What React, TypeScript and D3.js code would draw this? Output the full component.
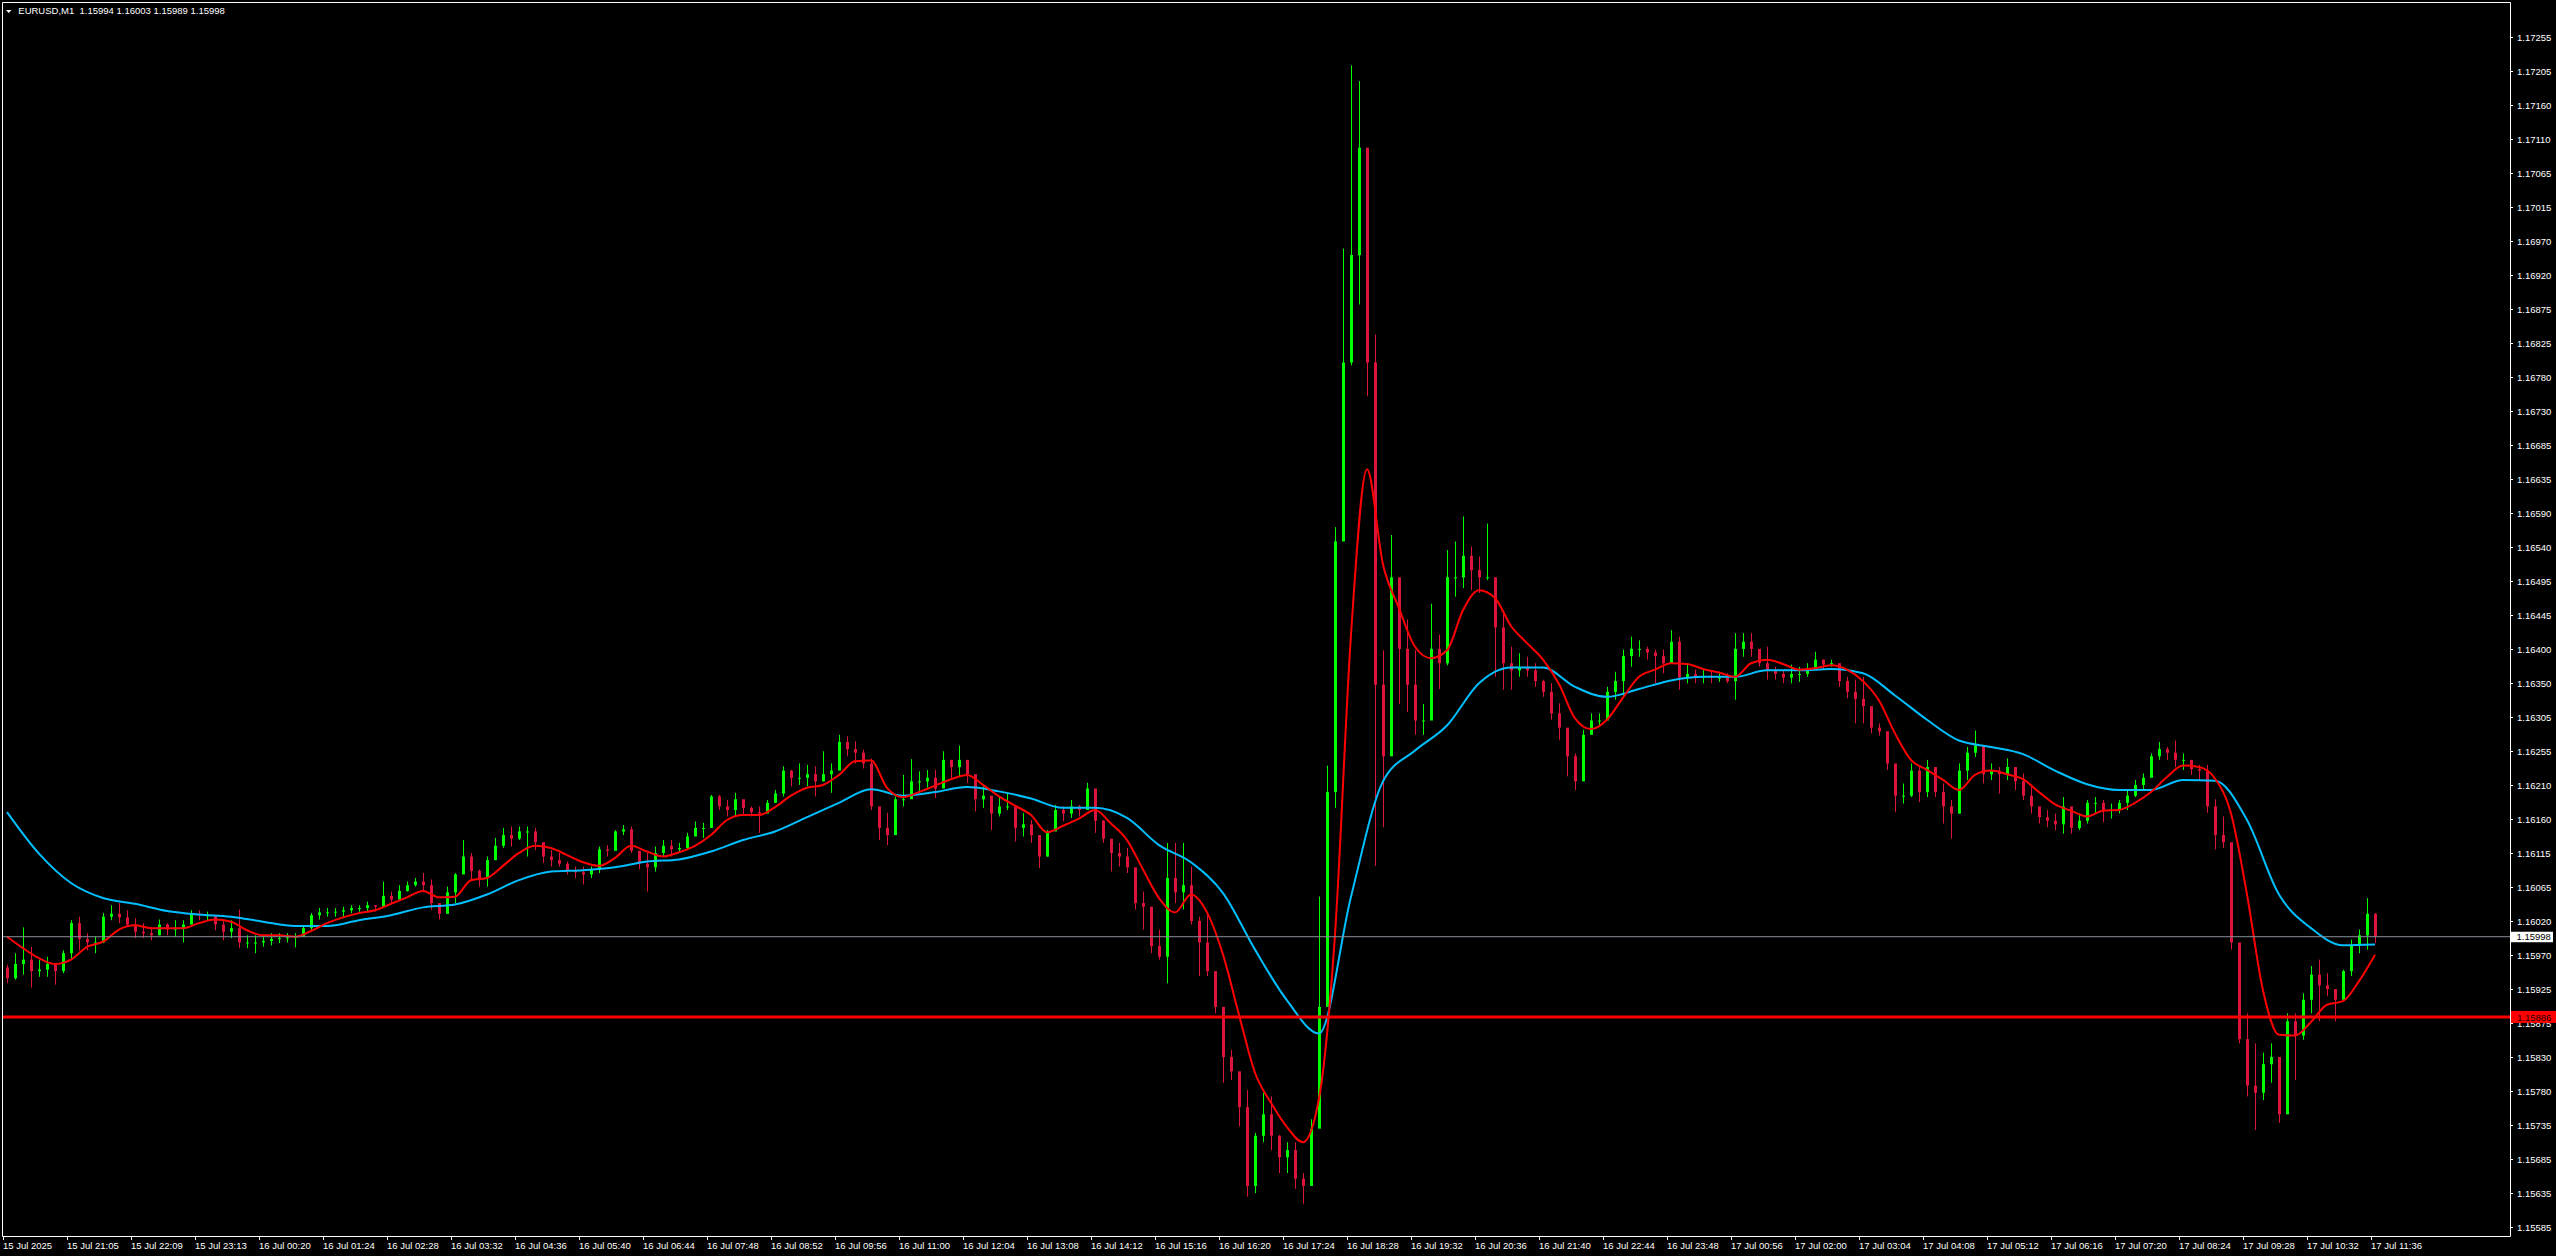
import React from 'react';
import * as d3 from 'd3';

const SYMBOL = 'EURUSD,M1';
const HEADER_OHLC = ['1.15994', '1.16003', '1.15989', '1.15998'];
const BID = 1.15998;
const LEVEL = 1.15886;
const OPEN0 = 1.15955;

// aggregated 8-minute buckets
const HIGH = [
1.15959,1.15975,1.16011,1.15984,1.15966,1.15970,1.15961,1.15979,1.16021,1.16026,
1.16003,1.15998,1.16031,1.16042,1.16045,1.16035,1.16024,1.16017,1.16012,1.16022,
1.16017,1.16021,1.16021,1.16035,1.16035,1.16033,1.16028,1.16021,1.16021,1.16036,
1.16000,1.16000,1.16000,1.16003,1.16003,1.16003,1.16003,1.16014,1.16031,1.16038,
1.16038,1.16038,1.16040,1.16042,1.16042,1.16047,1.16042,1.16075,1.16061,1.16070,
1.16075,1.16080,1.16087,1.16078,1.16040,1.16068,1.16087,1.16133,1.16115,1.16092,
1.16110,1.16136,1.16150,1.16152,1.16152,1.16152,1.16150,1.16129,1.16119,1.16115,
1.16103,1.16096,1.16096,1.16096,1.16124,1.16126,1.16147,1.16154,1.16152,1.16117,
1.16115,1.16124,1.16133,1.16133,1.16129,1.16143,1.16159,1.16157,1.16196,1.16196,
1.16189,1.16199,1.16185,1.16180,1.16180,1.16189,1.16203,1.16236,1.16231,1.16240,
1.16238,1.16236,1.16257,1.16240,1.16280,1.16278,1.16271,1.16259,1.16247,1.16175,
1.16171,1.16194,1.16224,1.16246,1.16229,1.16231,1.16231,1.16257,1.16245,1.16265,
1.16240,1.16222,1.16208,1.16194,1.16194,1.16199,1.16180,1.16171,1.16161,1.16138,
1.16147,1.16182,1.16180,1.16189,1.16182,1.16213,1.16199,1.16161,1.16129,1.16129,
1.16122,1.16078,1.16061,1.16029,1.16008,1.16129,1.16129,1.16129,1.16096,1.16026,
1.16031,1.15947,1.15891,1.15840,1.15789,1.15784,1.15724,1.15780,1.15775,1.15721,
1.15711,1.15711,1.15668,1.15743,1.16054,1.16237,1.16570,1.16959,1.17215,1.17193,
1.17075,1.16839,1.16398,1.16559,1.16484,1.16441,1.16398,1.16323,1.16463,1.16420,
1.16538,1.16550,1.16585,1.16543,1.16529,1.16575,1.16492,1.16450,1.16403,1.16394,
1.16389,1.16380,1.16357,1.16352,1.16324,1.16282,1.16254,1.16287,1.16310,1.16310,
1.16347,1.16368,1.16399,1.16417,1.16412,1.16403,1.16399,1.16399,1.16426,1.16417,
1.16380,1.16371,1.16371,1.16368,1.16366,1.16366,1.16422,1.16422,1.16422,1.16389,
1.16403,1.16375,1.16371,1.16378,1.16375,1.16380,1.16396,1.16385,1.16385,1.16378,
1.16361,1.16357,1.16361,1.16319,1.16296,1.16282,1.16231,1.16212,1.16240,1.16235,
1.16245,1.16226,1.16212,1.16189,1.16240,1.16263,1.16286,1.16259,1.16240,1.16235,
1.16247,1.16231,1.16226,1.16207,1.16179,1.16175,1.16170,1.16193,1.16163,1.16170,
1.16189,1.16193,1.16189,1.16184,1.16189,1.16203,1.16217,1.16226,1.16254,1.16270,
1.16263,1.16272,1.16254,1.16240,1.16238,1.16238,1.16190,1.16166,1.16129,1.15980,
1.15891,1.15849,1.15836,1.15849,1.15817,1.15891,1.15891,1.15919,1.15957,1.15966,
1.15947,1.15919,1.15952,1.15994,1.16008,1.16052,1.16031
];

const LOW = [
1.15933,1.15938,1.15945,1.15927,1.15942,1.15942,1.15931,1.15947,1.15966,1.15979,
1.15979,1.15975,1.15989,1.16021,1.16017,1.16012,1.15996,1.15996,1.15993,1.16000,
1.16000,1.15998,1.15990,1.16017,1.16021,1.16021,1.16007,1.15993,1.15996,1.15982,
1.15982,1.15975,1.15984,1.15986,1.15989,1.15990,1.15983,1.15998,1.16005,1.16022,
1.16026,1.16026,1.16024,1.16031,1.16033,1.16033,1.16033,1.16045,1.16045,1.16049,
1.16061,1.16068,1.16061,1.16036,1.16022,1.16043,1.16045,1.16096,1.16078,1.16068,
1.16068,1.16105,1.16122,1.16124,1.16133,1.16110,1.16119,1.16101,1.16096,1.16096,
1.16085,1.16080,1.16071,1.16080,1.16087,1.16110,1.16119,1.16140,1.16115,1.16092,
1.16061,1.16089,1.16110,1.16110,1.16115,1.16119,1.16140,1.16136,1.16161,1.16175,
1.16166,1.16166,1.16168,1.16166,1.16143,1.16173,1.16185,1.16194,1.16208,1.16210,
1.16208,1.16194,1.16215,1.16199,1.16236,1.16250,1.16240,1.16233,1.16175,1.16133,
1.16126,1.16152,1.16180,1.16194,1.16201,1.16206,1.16192,1.16206,1.16217,1.16222,
1.16213,1.16173,1.16178,1.16147,1.16166,1.16175,1.16131,1.16138,1.16129,1.16094,
1.16110,1.16152,1.16159,1.16164,1.16166,1.16180,1.16143,1.16129,1.16089,1.16096,
1.16087,1.16036,1.16008,1.15975,1.15966,1.15933,1.16045,1.16036,1.16015,1.15943,
1.15943,1.15891,1.15794,1.15798,1.15733,1.15635,1.15640,1.15711,1.15700,1.15668,
1.15668,1.15646,1.15625,1.15657,1.15829,1.16070,1.16178,1.16602,1.16796,1.16881,
1.16753,1.16097,1.16151,1.16269,1.16323,1.16312,1.16280,1.16280,1.16344,1.16344,
1.16377,1.16473,1.16485,1.16482,1.16478,1.16496,1.16361,1.16343,1.16343,1.16361,
1.16361,1.16347,1.16333,1.16301,1.16273,1.16222,1.16203,1.16236,1.16282,1.16291,
1.16310,1.16329,1.16333,1.16375,1.16389,1.16385,1.16352,1.16366,1.16385,1.16343,
1.16352,1.16352,1.16352,1.16352,1.16354,1.16352,1.16329,1.16389,1.16389,1.16375,
1.16357,1.16357,1.16352,1.16352,1.16354,1.16361,1.16371,1.16371,1.16375,1.16347,
1.16331,1.16296,1.16296,1.16282,1.16279,1.16231,1.16172,1.16184,1.16193,1.16186,
1.16193,1.16193,1.16156,1.16135,1.16170,1.16217,1.16249,1.16212,1.16217,1.16198,
1.16217,1.16203,1.16189,1.16170,1.16156,1.16151,1.16147,1.16142,1.16142,1.16147,
1.16156,1.16170,1.16158,1.16163,1.16170,1.16175,1.16193,1.16203,1.16221,1.16245,
1.16245,1.16235,1.16231,1.16224,1.16217,1.16171,1.16120,1.16122,1.15980,1.15849,
1.15775,1.15728,1.15770,1.15794,1.15738,1.15789,1.15798,1.15854,1.15891,1.15880,
1.15915,1.15880,1.15910,1.15943,1.15975,1.15980,1.15989
];

const CLOSE = [
1.15940,1.15960,1.15966,1.15950,1.15952,1.15960,1.15950,1.15975,1.16017,1.15995,
1.15990,1.15990,1.16026,1.16030,1.16025,1.16015,1.16005,1.16003,1.16000,1.16015,
1.16008,1.16010,1.16015,1.16030,1.16028,1.16028,1.16015,1.16005,1.16010,1.15990,
1.15990,1.15990,1.15992,1.15995,1.15996,1.15997,1.15998,1.16010,1.16028,1.16032,
1.16032,1.16033,1.16035,1.16038,1.16038,1.16042,1.16040,1.16055,1.16050,1.16062,
1.16070,1.16075,1.16070,1.16045,1.16030,1.16060,1.16085,1.16110,1.16090,1.16080,
1.16105,1.16125,1.16140,1.16135,1.16145,1.16145,1.16130,1.16110,1.16105,1.16100,
1.16090,1.16088,1.16085,1.16092,1.16120,1.16118,1.16145,1.16148,1.16118,1.16100,
1.16095,1.16115,1.16125,1.16120,1.16122,1.16138,1.16150,1.16150,1.16194,1.16180,
1.16175,1.16190,1.16178,1.16172,1.16170,1.16185,1.16198,1.16230,1.16220,1.16220,
1.16225,1.16215,1.16225,1.16230,1.16270,1.16260,1.16255,1.16240,1.16180,1.16150,
1.16140,1.16190,1.16190,1.16215,1.16215,1.16220,1.16205,1.16245,1.16235,1.16245,
1.16225,1.16190,1.16195,1.16170,1.16180,1.16180,1.16150,1.16155,1.16140,1.16110,
1.16145,1.16175,1.16170,1.16180,1.16175,1.16205,1.16160,1.16135,1.16115,1.16110,
1.16095,1.16045,1.16040,1.15985,1.15970,1.16080,1.16060,1.16070,1.16020,1.15990,
1.15950,1.15900,1.15830,1.15810,1.15760,1.15650,1.15720,1.15750,1.15720,1.15690,
1.15700,1.15660,1.15650,1.15730,1.15900,1.16200,1.16550,1.16800,1.16950,1.17100,
1.16800,1.16350,1.16250,1.16500,1.16400,1.16350,1.16300,1.16300,1.16400,1.16380,
1.16500,1.16500,1.16530,1.16510,1.16500,1.16500,1.16430,1.16380,1.16370,1.16375,
1.16370,1.16355,1.16340,1.16310,1.16290,1.16250,1.16215,1.16280,1.16300,1.16300,
1.16340,1.16355,1.16390,1.16400,1.16400,1.16395,1.16390,1.16380,1.16410,1.16360,
1.16365,1.16360,1.16362,1.16360,1.16360,1.16355,1.16400,1.16410,1.16400,1.16380,
1.16370,1.16365,1.16360,1.16365,1.16365,1.16370,1.16385,1.16378,1.16380,1.16355,
1.16340,1.16330,1.16320,1.16290,1.16285,1.16240,1.16195,1.16195,1.16230,1.16200,
1.16235,1.16200,1.16180,1.16170,1.16230,1.16255,1.16265,1.16225,1.16230,1.16225,
1.16235,1.16215,1.16195,1.16180,1.16165,1.16160,1.16155,1.16180,1.16150,1.16160,
1.16185,1.16185,1.16175,1.16175,1.16185,1.16195,1.16210,1.16220,1.16250,1.16260,
1.16255,1.16245,1.16245,1.16232,1.16230,1.16180,1.16140,1.16130,1.15990,1.15855,
1.15790,1.15780,1.15820,1.15830,1.15750,1.15880,1.15860,1.15910,1.15945,1.15930,
1.15925,1.15910,1.15950,1.15985,1.16000,1.16030,1.15998
];

// fast MA, one value every 2 buckets
const RED_MA = [
1.15998,1.15982,1.15968,1.15960,1.15966,1.15984,1.15991,1.16008,1.16014,1.16010,
1.16010,1.16010,1.16017,1.16022,1.16019,1.16007,1.16000,1.16000,1.15998,1.16006,
1.16017,1.16025,1.16031,1.16035,1.16044,1.16053,1.16062,1.16053,1.16054,1.16077,
1.16080,1.16097,1.16115,1.16125,1.16122,1.16112,1.16102,1.16097,1.16108,1.16125,
1.16117,1.16110,1.16116,1.16125,1.16140,1.16161,1.16168,1.16168,1.16179,1.16195,
1.16206,1.16210,1.16224,1.16243,1.16244,1.16206,1.16193,1.16200,1.16209,1.16218,
1.16224,1.16210,1.16194,1.16181,1.16168,1.16144,1.16153,1.16163,1.16175,1.16156,
1.16133,1.16092,1.16052,1.16032,1.16057,1.16032,1.15973,1.15889,1.15808,1.15766,
1.15732,1.15711,1.15772,1.16001,1.16420,1.16651,1.16518,1.16457,1.16403,1.16387,
1.16398,1.16454,1.16482,1.16471,1.16432,1.16408,1.16385,1.16351,1.16303,1.16288,
1.16301,1.16332,1.16361,1.16371,1.16380,1.16379,1.16372,1.16367,1.16361,1.16380,
1.16385,1.16379,1.16371,1.16373,1.16377,1.16371,1.16355,1.16328,1.16282,1.16245,
1.16231,1.16217,1.16203,1.16224,1.16230,1.16225,1.16218,1.16200,1.16183,1.16174,
1.16166,1.16174,1.16175,1.16185,1.16200,1.16221,1.16237,1.16235,1.16219,1.16170,
1.16057,1.15923,1.15861,1.15860,1.15879,1.15903,1.15908,1.15936,1.15973
];

// slow MA, one value every 4 buckets
const BLUE_MA = [
1.16172,1.16114,1.16073,1.16052,1.16044,1.16034,1.16029,1.16026,1.16019,1.16013,
1.16013,1.16021,1.16028,1.16039,1.16043,1.16057,1.16077,1.16089,1.16091,1.16095,
1.16103,1.16106,1.16117,1.16133,1.16145,1.16165,1.16185,1.16204,1.16195,1.16200,
1.16207,1.16201,1.16191,1.16178,1.16178,1.16164,1.16126,1.16102,1.16059,1.15980,
1.15909,1.15863,1.16054,1.16215,1.16258,1.16293,1.16352,1.16374,1.16374,1.16347,
1.16333,1.16344,1.16356,1.16361,1.16361,1.16370,1.16370,1.16372,1.16366,1.16335,
1.16301,1.16272,1.16263,1.16253,1.16230,1.16211,1.16203,1.16203,1.16217,1.16216,
1.16161,1.16057,1.16010,1.15986,1.15987
];

const PRICE_LABELS = [
'1.17255','1.17205','1.17160','1.17110','1.17065','1.17015','1.16970','1.16920','1.16875','1.16825',
'1.16780','1.16730','1.16685','1.16635','1.16590','1.16540','1.16495','1.16445','1.16400','1.16350',
'1.16305','1.16255','1.16210','1.16160','1.16115','1.16065','1.16020','1.15970','1.15925','1.15875',
'1.15830','1.15780','1.15735','1.15685','1.15635','1.15585'
];

const TIME_LABELS = [
'15 Jul 2025','15 Jul 21:05','15 Jul 22:09','15 Jul 23:13','16 Jul 00:20','16 Jul 01:24','16 Jul 02:28',
'16 Jul 03:32','16 Jul 04:36','16 Jul 05:40','16 Jul 06:44','16 Jul 07:48','16 Jul 08:52','16 Jul 09:56',
'16 Jul 11:00','16 Jul 12:04','16 Jul 13:08','16 Jul 14:12','16 Jul 15:16','16 Jul 16:20','16 Jul 17:24',
'16 Jul 18:28','16 Jul 19:32','16 Jul 20:36','16 Jul 21:40','16 Jul 22:44','16 Jul 23:48','17 Jul 00:56',
'17 Jul 02:00','17 Jul 03:04','17 Jul 04:08','17 Jul 05:12','17 Jul 06:16','17 Jul 07:20','17 Jul 08:24',
'17 Jul 09:28','17 Jul 10:32','17 Jul 11:36'
];

const W = 2556;
const H = 1256;
const PL = 2, PT = 2, PR = 2510, PB = 1236;
const BUCKET_PX = 8;
const BUCKETS_PER_LABEL = 8;
const FONT = '"Liberation Sans", Arial, sans-serif';
const BULL = '#00ff00';
const BEAR = '#dc143c';

export default function App() {
  const n = HIGH.length;
  const x = d3.scaleLinear().domain([0, n]).range([3, 3 + BUCKET_PX * n]);
  const y = d3.scaleLinear().domain([1.17255, 1.15925]).range([36.7, 989]);
  const tickStep = (1.17255 - 1.15925) / 28;

  const redLine = d3.line<number>()
    .x((_, i) => x(i * 2 + 0.5))
    .y((d) => y(d))
    .curve(d3.curveMonotoneX);
  const blueLine = d3.line<number>()
    .x((_, i) => x(i * 4 + 0.5))
    .y((d) => y(d))
    .curve(d3.curveMonotoneX);

  const candles = HIGH.map((h, i) => {
    const o = i === 0 ? OPEN0 : CLOSE[i - 1];
    const c = CLOSE[i];
    const l = LOW[i];
    const cx = Math.round(x(i + 0.5)) + 0.5;
    const col = c >= o ? BULL : BEAR;
    const top = y(Math.max(o, c));
    const bot = y(Math.min(o, c));
    return (
      <g key={i}>
        <line x1={cx} x2={cx} y1={y(h)} y2={y(l)} stroke={col} strokeWidth={1} />
        <rect x={cx - 1.5} y={top} width={3} height={Math.max(1, bot - top)} fill={col} />
      </g>
    );
  });

  const yBid = y(BID);
  const yLevel = y(LEVEL);

  return (
    <svg width={W} height={H} style={{ position: 'fixed', left: 0, top: 0, display: 'block', background: '#000' }}>
      <rect x={0} y={0} width={W} height={H} fill="#000" />
      <defs>
        <clipPath id="plot">
          <rect x={PL} y={PT} width={PR - PL} height={PB - PT} />
        </clipPath>
      </defs>
      <g clipPath="url(#plot)">
        {candles}
        <path d={blueLine(BLUE_MA) || ''} fill="none" stroke="#00bfff" strokeWidth={2} />
        <path d={redLine(RED_MA) || ''} fill="none" stroke="#ff0000" strokeWidth={2} />
        <line x1={PL} x2={PR} y1={yBid} y2={yBid} stroke="#8a8f99" strokeWidth={1} />
        <line x1={PL} x2={PR} y1={yLevel} y2={yLevel} stroke="#ff0000" strokeWidth={3} />
      </g>
      {/* frame */}
      <path d={`M${PL + 0.5},${PB + 0.5} V${PT + 0.5} H${PR + 0.5} V${PB + 0.5} H${PL + 0.5}`} fill="none" stroke="#fff" strokeWidth={1} />
      {/* header */}
      <polygon points="6,10 11.5,10 8.75,13" fill="#fff" />
      <text x={18.3} y={14.2} fill="#fff" fontFamily={FONT} fontSize={9.5}>
        {`${SYMBOL}\u00a0\u00a0${HEADER_OHLC.join(' ')}`}
      </text>
      {/* price axis */}
      {PRICE_LABELS.map((lab, k) => {
        const ty = Math.round(y(1.17255 - k * tickStep)) + 0.5;
        return (
          <g key={lab}>
            <line x1={PR} x2={PR + 3} y1={ty} y2={ty} stroke="#fff" strokeWidth={1} />
            <text x={2517} y={ty + 3.3} fill="#fff" fontFamily={FONT} fontSize={9.5}>{lab}</text>
          </g>
        );
      })}
      {/* bid label */}
      <rect x={2511} y={yBid - 5} width={42} height={10.5} fill="#fff" />
      <text x={2516.5} y={yBid + 3.6} fill="#000" fontFamily={FONT} fontSize={9.5}>{BID.toFixed(5)}</text>
      {/* level label */}
      <rect x={2511} y={yLevel - 6} width={45} height={12} fill="#ff0000" />
      <text x={2517} y={yLevel + 3.6} fill="#200000" fontFamily={FONT} fontSize={9.5}>{LEVEL.toFixed(5)}</text>
      {/* time axis */}
      {TIME_LABELS.map((lab, j) => {
        const tx = Math.round(x(j * BUCKETS_PER_LABEL)) + 0.5;
        return (
          <g key={lab}>
            <line x1={tx} x2={tx} y1={PB} y2={PB + 4} stroke="#fff" strokeWidth={1} />
            <text x={tx - 0.5} y={1248.5} fill="#fff" fontFamily={FONT} fontSize={9.5}>{lab}</text>
          </g>
        );
      })}
    </svg>
  );
}
